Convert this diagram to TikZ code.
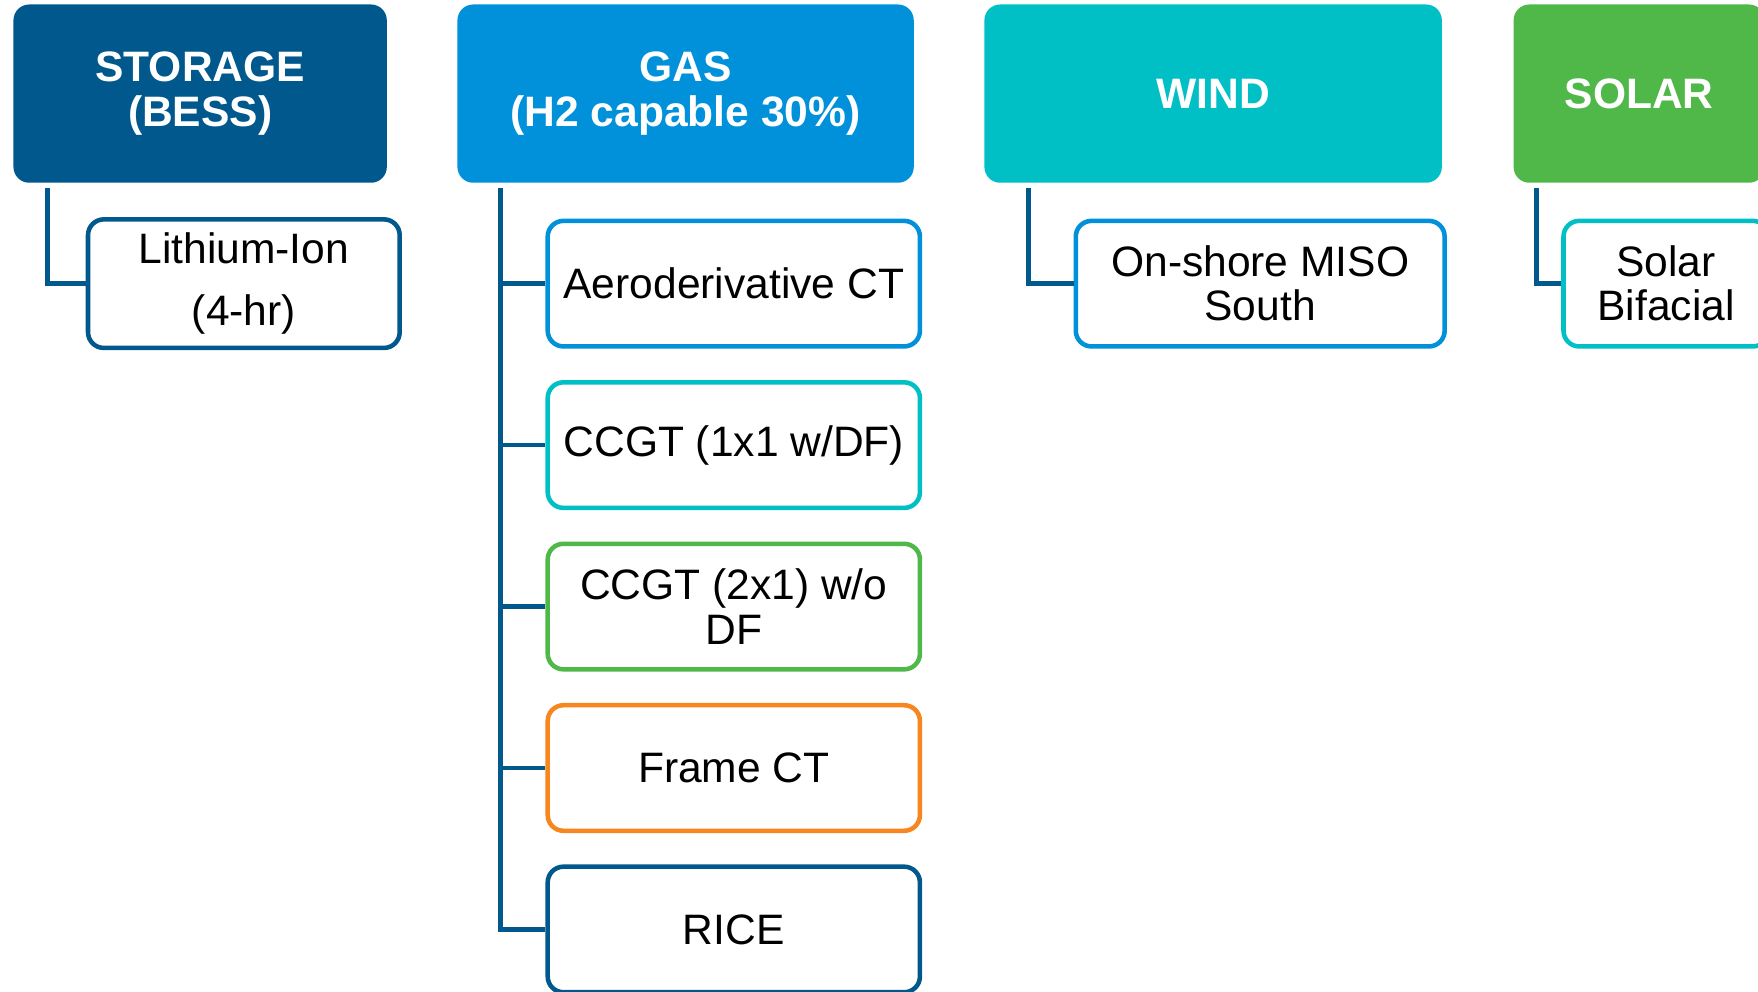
\documentclass[tikz,border=0pt]{standalone}
\usepackage{fontspec}
\setmainfont{Liberation Sans}
\usepackage{tikz}
\usetikzlibrary{positioning, calc}
\definecolor{storageColor}{RGB}{0, 88, 140}
\definecolor{gasColor}{RGB}{0, 145, 218}
\definecolor{windColor}{RGB}{0, 192, 198}
\definecolor{solarColor}{RGB}{80, 184, 72}
\definecolor{frameColor}{RGB}{247, 134, 31}

\begin{document}
\begin{tikzpicture}[
    header/.style={
        rectangle,
        fill=#1,
        minimum height=1.59cm,
        rounded corners=4pt,
        text=white,
        align=center,
        font=\fontsize{10.8}{11.2}\selectfont\bfseries
    },
    item/.style={
        rectangle,
        draw=#1,
        fill=white,
        line width=1.15pt,
        minimum height=1.12cm,
        rounded corners=4pt,
        align=center,
        font=\fontsize{10.8}{11.2}\selectfont
    },
    link/.style={storageColor, line width=1.15pt}
]
    \useasboundingbox (0,0) rectangle (15.68,-8.84);
    \clip (0,0) rectangle (15.68,-8.84);

    % Headers
    \node[header=storageColor, minimum width=3.33cm] (storage) at (1.785,-0.835) {STORAGE\\(BESS)};
    \node[header=gasColor, minimum width=4.07cm] (gas) at (6.115,-0.835) {GAS\\(H2 capable 30\%)};
    \node[header=windColor, minimum width=4.08cm] (wind) at (10.82,-0.835) {WIND};
    \node[header=solarColor, minimum width=2.24cm] (solar) at (14.62,-0.835) {SOLAR};

    % Storage
    \node[item=storageColor, minimum width=2.78cm, font=\fontsize{10.8}{15.9}\selectfont] (lithium) at (2.175,-2.53) {Lithium-Ion\\(4-hr)};

    % Gas
    \node[item=gasColor, minimum width=3.32cm] (aero) at (6.545,-2.53) {Aeroderivative CT};
    \node[item=windColor, minimum width=3.32cm] (ccgt1) at (6.545,-3.97) {CCGT (1x1 w/DF)};
    \node[item=solarColor, minimum width=3.32cm] (ccgt2) at (6.545,-5.41) {CCGT (2x1) w/o\\DF};
    \node[item=frameColor, minimum width=3.32cm] (frame) at (6.545,-6.85) {Frame CT};
    \node[item=storageColor, minimum width=3.32cm] (rice) at (6.545,-8.29) {RICE};

    % Wind and Solar
    \node[item=gasColor, minimum width=3.29cm] (onshore) at (11.24,-2.53) {On-shore MISO\\South};
    \node[item=windColor, minimum width=1.83cm] (bifacial) at (14.86,-2.53) {Solar\\Bifacial};

    % Connections
    \draw[link] ([xshift=0.31cm,yshift=-0.04cm]storage.south west) |- (lithium.west);
    \foreach \n in {aero, ccgt1, ccgt2, frame, rice} {
        \draw[link] ([xshift=0.39cm,yshift=-0.04cm]gas.south west) |- (\n.west);
    }
    \draw[link] ([xshift=0.40cm,yshift=-0.04cm]wind.south west) |- (onshore.west);
    \draw[link] ([xshift=0.21cm,yshift=-0.04cm]solar.south west) |- (bifacial.west);

\end{tikzpicture}
\end{document}
